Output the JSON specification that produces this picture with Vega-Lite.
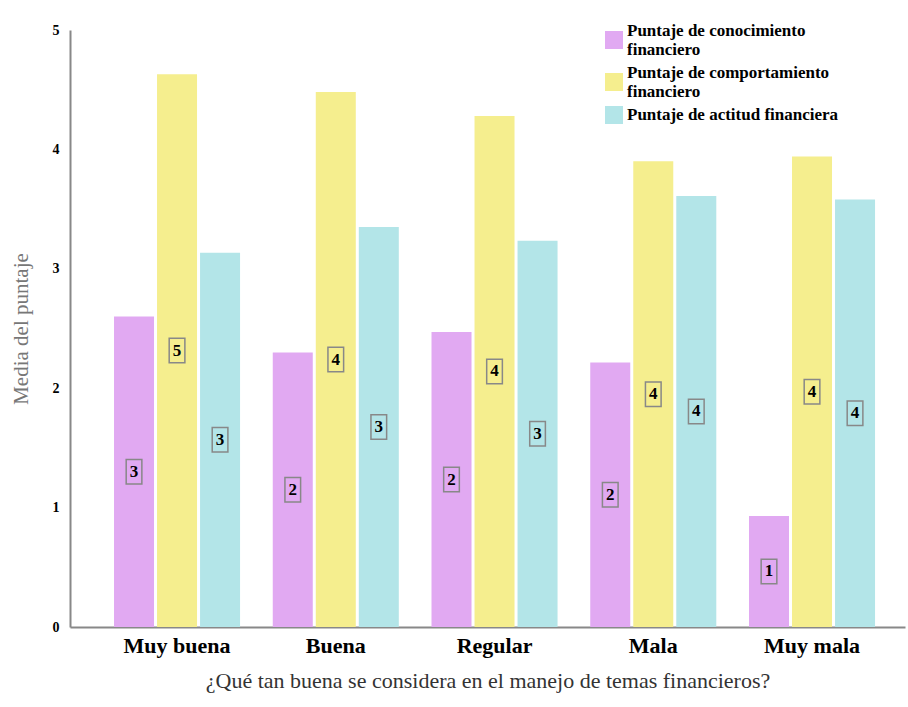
{
  "$schema": "https://vega.github.io/schema/vega-lite/v6.json",
  "width": 835,
  "height": 597,
  "autosize": "none",
  "padding": {"left": 70, "top": 30, "right": 3, "bottom": 80},
  "config": {
    "view": {"stroke": null},
    "font": "Liberation Serif",
    "axis": {"labelFont": "Liberation Serif", "titleFont": "Liberation Serif"},
    "legend": {"labelFont": "Liberation Serif", "titleFont": "Liberation Serif"},
    "text": {"font": "Liberation Serif"}
  },
  "data": {
    "values": [
      {"cat": "Muy buena", "serie": "Puntaje de conocimiento financiero", "value": 2.60},
      {"cat": "Muy buena", "serie": "Puntaje de comportamiento financiero", "value": 4.63},
      {"cat": "Muy buena", "serie": "Puntaje de actitud financiera", "value": 3.135},
      {"cat": "Buena", "serie": "Puntaje de conocimiento financiero", "value": 2.30},
      {"cat": "Buena", "serie": "Puntaje de comportamiento financiero", "value": 4.48},
      {"cat": "Buena", "serie": "Puntaje de actitud financiera", "value": 3.35},
      {"cat": "Regular", "serie": "Puntaje de conocimiento financiero", "value": 2.47},
      {"cat": "Regular", "serie": "Puntaje de comportamiento financiero", "value": 4.28},
      {"cat": "Regular", "serie": "Puntaje de actitud financiera", "value": 3.235},
      {"cat": "Mala", "serie": "Puntaje de conocimiento financiero", "value": 2.215},
      {"cat": "Mala", "serie": "Puntaje de comportamiento financiero", "value": 3.90},
      {"cat": "Mala", "serie": "Puntaje de actitud financiera", "value": 3.61},
      {"cat": "Muy mala", "serie": "Puntaje de conocimiento financiero", "value": 0.93},
      {"cat": "Muy mala", "serie": "Puntaje de comportamiento financiero", "value": 3.94},
      {"cat": "Muy mala", "serie": "Puntaje de actitud financiera", "value": 3.58}
    ]
  },
  "transform": [{"calculate": "datum.value / 2", "as": "mid"}],
  "encoding": {
    "x": {
      "field": "cat",
      "type": "nominal",
      "sort": ["Muy buena", "Buena", "Regular", "Mala", "Muy mala"],
      "scale": {"paddingInner": 0.206, "paddingOuter": 0.233, "align": 0.595},
      "axis": {
        "title": "¿Qué tan buena se considera en el manejo de temas financieros?",
        "titleFont": "Liberation Serif",
        "titleFontSize": 22,
        "titleFontWeight": "normal",
        "titleColor": "#333333",
        "titlePadding": 14,
        "labelFont": "Liberation Serif",
        "labelFontSize": 22,
        "labelFontWeight": "bold",
        "labelColor": "#000000",
        "labelPadding": 8,
        "labelAngle": 0,
        "ticks": false,
        "domainColor": "#888888",
        "domainWidth": 2
      }
    },
    "xOffset": {
      "field": "serie",
      "type": "nominal",
      "sort": ["Puntaje de conocimiento financiero", "Puntaje de comportamiento financiero", "Puntaje de actitud financiera"],
      "scale": {"paddingInner": 0.07, "paddingOuter": 0}
    }
  },
  "layer": [
    {
      "mark": {"type": "bar"},
      "encoding": {
        "y": {
          "field": "value",
          "type": "quantitative",
          "scale": {"domain": [0, 5]},
          "axis": {
            "title": "Media del puntaje",
            "titleFont": "Liberation Serif",
            "titleFontSize": 21,
            "titleFontWeight": "normal",
            "titleColor": "#777777",
            "titlePadding": 21,
            "values": [0, 1, 2, 3, 4, 5],
            "format": "d",
            "labelFont": "Liberation Serif",
            "labelFontSize": 14,
            "labelFontWeight": "bold",
            "labelColor": "#000000",
            "labelPadding": 11,
            "ticks": false,
            "grid": false,
            "domainColor": "#888888",
            "domainWidth": 2
          }
        },
        "color": {
          "field": "serie",
          "type": "nominal",
          "sort": ["Puntaje de conocimiento financiero", "Puntaje de comportamiento financiero", "Puntaje de actitud financiera"],
          "scale": {"range": ["#E1A9F2", "#F5EE8E", "#B3E5E8"]},
          "legend": {
            "title": null,
            "orient": "none",
            "legendX": 535,
            "legendY": 1,
            "symbolType": "square",
            "symbolSize": 324,
            "symbolStrokeWidth": 0,
            "labelFont": "Liberation Serif",
            "labelFontSize": 17,
            "labelFontWeight": "bold",
            "labelColor": "#000000",
            "labelOffset": 4,
            "labelLimit": 400,
            "labelLineHeight": 18,
            "labelBaseline": "bottom",
            "rowPadding": 6,
            "labelExpr": "datum.label == 'Puntaje de actitud financiera' ? datum.label : split(replace(datum.label, ' financiero', '|financiero'), '|')",
            "encode": {
              "labels": {
                "update": {
                  "baseline": {"signal": "datum.value == 'Puntaje de actitud financiera' ? 'middle' : 'bottom'"}
                }
              }
            }
          }
        }
      }
    },
    {
      "mark": {
        "type": "point",
        "shape": "M-0.64,-1H0.64V1H-0.64Z",
        "size": 600,
        "filled": false,
        "stroke": "#888888",
        "strokeWidth": 1.5,
        "opacity": 1
      },
      "encoding": {
        "y": {"field": "mid", "type": "quantitative"}
      }
    },
    {
      "mark": {"type": "text", "font": "Liberation Serif", "fontSize": 17, "fontWeight": "bold", "color": "#000000", "baseline": "middle"},
      "encoding": {
        "y": {"field": "mid", "type": "quantitative"},
        "text": {"field": "value", "type": "quantitative", "format": ".0f"}
      }
    }
  ]
}
